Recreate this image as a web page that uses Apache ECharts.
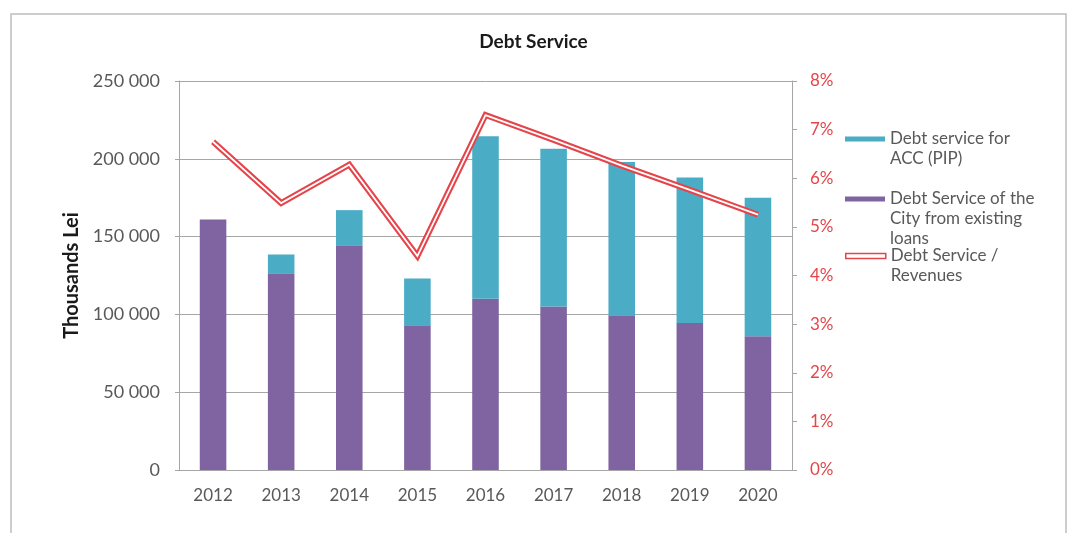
<!DOCTYPE html>
<html>
<head>
<meta charset="utf-8">
<script src="https://cdn.jsdelivr.net/npm/echarts@6/dist/echarts.min.js"></script>
<style>
html,body{margin:0;padding:0;background:#fff;}
#chart{width:1067px;height:533px;}
</style>
</head>
<body>
<div id="chart"></div>
<script>
// ---- data ----
const years = ['2012','2013','2014','2015','2016','2017','2018','2019','2020'];
const existingLoans = [161000, 126000, 144000, 93000, 110000, 105000, 99500, 94500, 86000];
const accPip = [0, 12500, 23000, 30000, 104500, 101500, 98500, 93500, 89000];
const debtToRevenues = [6.75, 5.49, 6.28, 4.40, 7.30, 6.79, 6.26, 5.76, 5.25];
const leftTicks = [0, 50000, 100000, 150000, 200000, 250000];
const rightTicks = [0, 1, 2, 3, 4, 5, 6, 7, 8];
const names = {
  acc: 'Debt service for ACC (PIP)',
  loans: 'Debt Service of the City from existing loans',
  ratio: 'Debt Service / Revenues'
};
const legendLines = {
  'Debt service for ACC (PIP)': ['Debt service for', 'ACC (PIP)'],
  'Debt Service of the City from existing loans': ['Debt Service of the', 'City from existing', 'loans'],
  'Debt Service / Revenues': ['Debt Service /', 'Revenues']
};

const FONT = 'Lato';
const GRAY = '#595959';
const RED = '#e5454a';
const LH = 20;
const chart = echarts.init(document.getElementById('chart'));

// icon is centred on the text block: prepend blank lines so the icon sits on the first line
function legendFor(name, firstLineY, icon, itemStyle) {
  const lines = legendLines[name];
  const n = lines.length;
  return {
    left: 845, top: firstLineY - LH / 2 - (n - 1) * LH, padding: 0, orient: 'vertical',
    itemWidth: 40, itemHeight: 5, itemGap: 0,
    data: [Object.assign({name: name, icon: icon}, itemStyle ? {itemStyle: itemStyle} : {})],
    formatter: nm => new Array(n - 1).fill(' ').concat(legendLines[nm]).join('\n'),
    selectedMode: false,
    textStyle: {fontFamily: FONT, fontSize: 17, color: GRAY, lineHeight: LH}
  };
}

chart.setOption({
  animation: false,
  textStyle: {fontFamily: FONT},
  graphic: [{
    type: 'rect', silent: true, z: -10,
    shape: {x: 11, y: 14, width: 1055, height: 600},
    style: {fill: 'none', stroke: '#bdbdbd', lineWidth: 1.5}
  }],
  title: {
    text: 'Debt Service', left: 'center', top: 32, padding: 0,
    textStyle: {fontFamily: FONT, fontSize: 19, fontWeight: 'bold', color: '#1a1a1a'}
  },
  legend: [
    legendFor(names.acc, 139, 'rect'),
    legendFor(names.loans, 199, 'rect'),
    legendFor(names.ratio, 256, 'path://M0,0L40,0L40,5L0,5Z', {color: '#fff', borderColor: RED, borderWidth: 1.5})
  ],
  grid: {left: 179, right: 275, top: 81, bottom: 63},
  xAxis: {
    type: 'category', data: years,
    axisLine: {lineStyle: {color: '#a6a6a6', width: 1}},
    axisTick: {show: false},
    axisLabel: {fontFamily: FONT, fontSize: 17, color: GRAY, margin: 17}
  },
  yAxis: [{
    type: 'value', min: leftTicks[0], max: leftTicks[leftTicks.length - 1], interval: leftTicks[1] - leftTicks[0],
    name: 'Thousands Lei', nameLocation: 'middle', nameGap: 92,
    nameTextStyle: {fontFamily: FONT, fontSize: 20, fontWeight: 'bold', color: '#1a1a1a'},
    axisLine: {show: true, lineStyle: {color: '#a6a6a6'}},
    axisTick: {show: true, length: 4, lineStyle: {color: '#a6a6a6'}},
    splitLine: {lineStyle: {color: '#a6a6a6'}},
    axisLabel: {fontFamily: FONT, fontSize: 18, color: GRAY, margin: 19,
      formatter: v => String(v).replace(/\B(?=(\d{3})+(?!\d))/g, ' ')}
  }, {
    type: 'value', min: rightTicks[0], max: rightTicks[rightTicks.length - 1], interval: rightTicks[1] - rightTicks[0],
    position: 'right',
    axisLine: {show: true, lineStyle: {color: '#a6a6a6'}},
    axisTick: {show: true, length: 5, lineStyle: {color: '#a6a6a6'}},
    splitLine: {show: false},
    axisLabel: {fontFamily: FONT, fontSize: 17, color: RED, margin: 18, formatter: '{value}%'}
  }],
  series: [{
    name: names.loans, type: 'bar', stack: 'debt', barWidth: '39%',
    itemStyle: {color: '#8064a2'}, data: existingLoans
  }, {
    name: names.acc, type: 'bar', stack: 'debt', barWidth: '39%',
    itemStyle: {color: '#4bacc6'}, data: accPip
  }, {
    name: names.ratio, type: 'line', yAxisIndex: 1, symbol: 'none', z: 5,
    lineStyle: {color: RED, width: 6, join: 'miter'}, data: debtToRevenues
  }, {
    name: 'inner', type: 'line', yAxisIndex: 1, symbol: 'none', z: 6, silent: true,
    lineStyle: {color: '#ffffff', width: 1.8, join: 'miter'}, data: debtToRevenues
  }]
});
</script>
</body>
</html>
